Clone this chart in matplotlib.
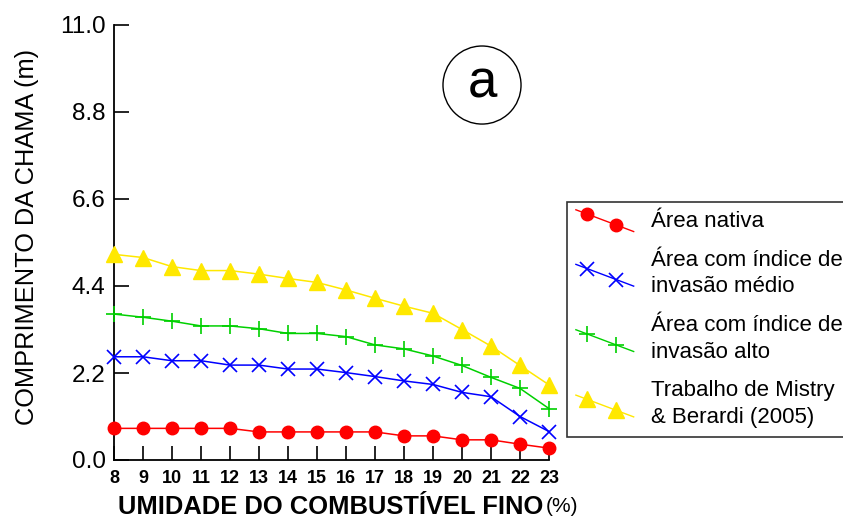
import matplotlib
matplotlib.use("Agg")
import matplotlib.pyplot as plt
from matplotlib.lines import Line2D
from matplotlib.legend_handler import HandlerBase
from matplotlib.patches import Circle

umidade = [8, 9, 10, 11, 12, 13, 14, 15, 16, 17, 18, 19, 20, 21, 22, 23]
area_nativa = [0.80, 0.80, 0.80, 0.80, 0.80, 0.71, 0.71, 0.71, 0.71, 0.71, 0.61, 0.61, 0.51, 0.51, 0.40, 0.30]
invasao_medio = [2.61, 2.61, 2.51, 2.51, 2.40, 2.40, 2.30, 2.30, 2.21, 2.11, 2.00, 1.91, 1.71, 1.60, 1.10, 0.72]
invasao_alto = [3.69, 3.61, 3.51, 3.39, 3.39, 3.32, 3.20, 3.20, 3.12, 2.91, 2.81, 2.63, 2.39, 2.09, 1.81, 1.30]
mistry_berardi = [5.20, 5.12, 4.89, 4.79, 4.79, 4.70, 4.59, 4.49, 4.30, 4.09, 3.89, 3.71, 3.30, 2.88, 2.39, 1.90]
y_ticks = [0.0, 2.2, 4.4, 6.6, 8.8, 11.0]
labels = ["Área nativa", "Área com índice de\ninvasão médio",
          "Área com índice de\ninvasão alto", "Trabalho de Mistry\n& Berardi (2005)"]

plt.rcParams['font.family'] = ['Liberation Sans', 'DejaVu Sans']

W, H = 843, 525
fig = plt.figure(figsize=(W / 100, H / 100), dpi=100)
ax = fig.add_axes([114 / W, 1 - 460 / H, 435 / W, 435 / H])

styles = [
    dict(color='#FF0000', marker='o', ms=9, mew=1),
    dict(color='#0000FF', marker='x', ms=10, mew=1.2),
    dict(color='#00D000', marker='+', ms=11, mew=1.2),
    dict(color='#FFE800', marker='^', ms=11, mew=1),
]
series = [area_nativa, invasao_medio, invasao_alto, mistry_berardi]
handles = []
for s, st, lab in zip(series, styles, labels):
    h, = ax.plot(umidade, s, lw=1.1, clip_on=False, label=lab, zorder=3, **st)
    handles.append(h)

ax.set_xlim(8, 23)
ax.set_ylim(0, 11)
ax.set_xticks(umidade)
ax.set_xticklabels([str(u) for u in umidade], fontsize=13, fontweight='bold')
ax.set_yticks(y_ticks)
ax.set_yticklabels(['%.1f' % v for v in y_ticks], fontsize=17.5)
ax.tick_params(axis='x', direction='in', length=10, width=1.2, pad=7)
ax.tick_params(axis='y', direction='in', length=11, width=1.2, pad=6)
for sp in ['top', 'right']:
    ax.spines[sp].set_visible(False)
for sp in ['left', 'bottom']:
    ax.spines[sp].set_linewidth(1.3)

# circle label
ax.add_patch(Circle((0.846, 0.862), 0.0897, transform=ax.transAxes, fill=False,
                    ec='black', lw=1, clip_on=False))
ax.text(0.846, 0.866, 'a', transform=ax.transAxes, ha='center', va='center', fontsize=38)

fig.text(27 / W, 1 - 237 / H, 'COMPRIMENTO DA CHAMA (m)', rotation=90,
         ha='center', va='center', fontsize=18.3)
fig.text(118 / W, 1 - 507 / H, 'UMIDADE DO COMBUSTÍVEL FINO', ha='left', va='center',
         fontsize=18.4, fontweight='bold')
fig.text(578 / W, 1 - 507 / H, '(%)', ha='right', va='center', fontsize=15)


class SlantHandler(HandlerBase):
    def create_artists(self, legend, orig_handle, xdescent, ydescent, width, height,
                       fontsize, trans):
        x0, x1 = -xdescent, -xdescent + width
        y0, y1 = height * 1.1, -height * 0.3
        line = Line2D([x0, x1], [y0, y1], color=orig_handle.get_color(), lw=1,
                      transform=trans)
        fx = [0.2, 0.7]
        mx = [x0 + f * (x1 - x0) for f in fx]
        my = [y0 + f * (y1 - y0) for f in fx]
        mk = Line2D(mx, my, ls='', marker=orig_handle.get_marker(),
                    ms=orig_handle.get_markersize(), mew=orig_handle.get_markeredgewidth(),
                    color=orig_handle.get_color(), transform=trans)
        return [line, mk]


leg = fig.legend(handles=handles, labels=labels, loc='upper left',
                 bbox_to_anchor=(567 / W, 1 - 202 / H), fontsize=16,
                 handler_map={h: SlantHandler() for h in handles},
                 handlelength=2.6, handletextpad=0.8, labelspacing=0.8,
                 borderpad=0.4, borderaxespad=0, fancybox=False, frameon=True)
for t in leg.get_texts():
    t.set_linespacing(1.35)
leg.get_frame().set_edgecolor('black')
leg.get_frame().set_linewidth(1.2)

fig.savefig('out.png', dpi=100)
